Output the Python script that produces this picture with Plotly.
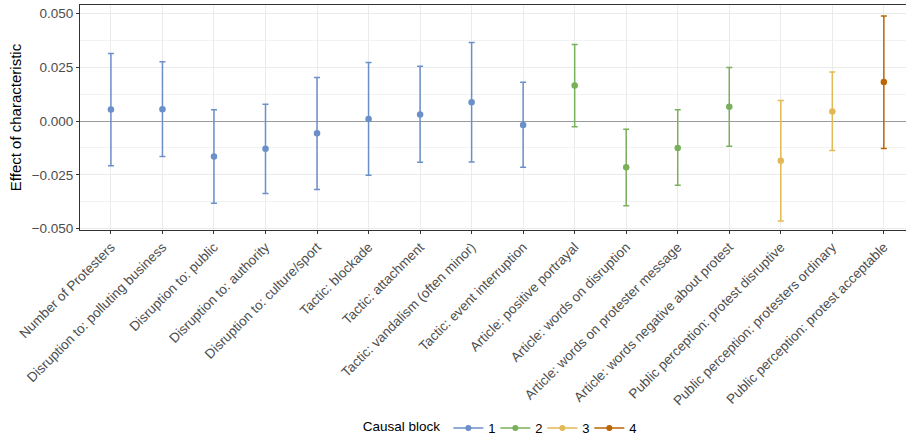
import plotly.graph_objects as go

# Characteristics, in plotting order
characteristics = [
    "Number of Protesters",
    "Disruption to: polluting business",
    "Disruption to: public",
    "Disruption to: authority",
    "Disruption to: culture/sport",
    "Tactic: blockade",
    "Tactic: attachment",
    "Tactic: vandalism (often minor)",
    "Tactic: event interruption",
    "Article: positive portrayal",
    "Article: words on disruption",
    "Article: words on protester message",
    "Article: words negative about protest",
    "Public perception: protest disruptive",
    "Public perception: protesters ordinary",
    "Public perception: protest acceptable",
]
causal_block = [1, 1, 1, 1, 1, 1, 1, 1, 1, 2, 2, 2, 2, 3, 3, 4]
estimate = [0.0054, 0.0055, -0.0165, -0.0129, -0.0057, 0.0009, 0.0031, 0.0088,
            -0.0018, 0.0165, -0.0215, -0.0125, 0.0066, -0.0185, 0.0045, 0.0182]
ci_upper = [0.0314, 0.0276, 0.0052, 0.0078, 0.0203, 0.0272, 0.0255, 0.0366,
            0.0180, 0.0356, -0.0038, 0.0052, 0.0249, 0.0096, 0.0228, 0.0489]
ci_lower = [-0.0208, -0.0165, -0.0382, -0.0337, -0.0319, -0.0252, -0.0192, -0.0191,
            -0.0215, -0.0026, -0.0394, -0.0299, -0.0117, -0.0465, -0.0137, -0.0128]

block_labels = [1, 2, 3, 4]
block_colors = {1: "#6a8fc9", 2: "#79b05c", 3: "#e2b955", 4: "#bb6504"}

y_ticks = [-0.050, -0.025, 0.000, 0.025, 0.050]

FONT = "Liberation Sans, Arial, sans-serif"

fig = go.Figure()

for b in block_labels:
    idx = [i for i, cb in enumerate(causal_block) if cb == b]
    xs = idx
    ys = [estimate[i] for i in idx]
    up = [ci_upper[i] - estimate[i] for i in idx]
    lo = [estimate[i] - ci_lower[i] for i in idx]
    col = block_colors[b]
    fig.add_trace(go.Scatter(
        x=xs, y=ys, mode="markers",
        marker=dict(color=col, size=6.5),
        error_y=dict(type="data", symmetric=False, array=up, arrayminus=lo,
                     color=col, thickness=1.5, width=3),
        showlegend=False, hoverinfo="skip",
    ))
    # legend key: line with point
    fig.add_trace(go.Scatter(
        x=[None], y=[None], mode="lines+markers", name=str(b),
        line=dict(color=col, width=1.5), marker=dict(color=col, size=6),
    ))

grid_minor = "#f2f2f2"
grid_major = "#ebebeb"

fig.update_layout(
    width=906, height=443,
    margin=dict(l=80, r=0, t=5, b=211),
    plot_bgcolor="white", paper_bgcolor="white",
    font=dict(family=FONT, size=13.5, color="#4d4d4d"),
    xaxis=dict(
        range=[-0.6, 15.43],
        tickmode="array", tickvals=list(range(len(characteristics))),
        ticktext=characteristics, tickangle=-45,
        showgrid=True, gridcolor=grid_major, gridwidth=1,
        ticks="outside", ticklen=3, tickcolor="#333333",
        showline=True, linecolor="#333333", linewidth=1, mirror=True,
        zeroline=False,
        tickfont=dict(size=13.5, color="#4d4d4d"),
    ),
    yaxis=dict(
        range=[-0.0507, 0.0540],
        tickmode="array", tickvals=y_ticks,
        ticktext=[f"{v:.3f}".replace("-", "\u2212") for v in y_ticks],
        showgrid=True, gridcolor=grid_major, gridwidth=1,
        minor=dict(tickmode="array", tickvals=[-0.0375, -0.0125, 0.0125, 0.0375],
                   showgrid=True, gridcolor=grid_minor, gridwidth=1, ticks=""),
        ticks="outside", ticklen=3, tickcolor="#333333",
        showline=True, linecolor="#333333", linewidth=1, mirror=True,
        zeroline=True, zerolinecolor="#9a9a9a", zerolinewidth=1.3,
        tickfont=dict(size=13.5, color="#4d4d4d"),
        title=dict(text="Effect of characteristic", font=dict(size=15, color="black"),
                   standoff=6),
    ),
    legend=dict(
        orientation="h", x=0.507, xanchor="center", y=-0.881, yanchor="middle",
        title=dict(text="Causal block", font=dict(size=13.5, color="black"), side="left"),
        font=dict(size=13, color="black"),
        itemwidth=30, entrywidth=2, entrywidthmode="pixels", tracegroupgap=0,
        bgcolor="rgba(0,0,0,0)",
    ),
)

fig.write_html("out.html")
